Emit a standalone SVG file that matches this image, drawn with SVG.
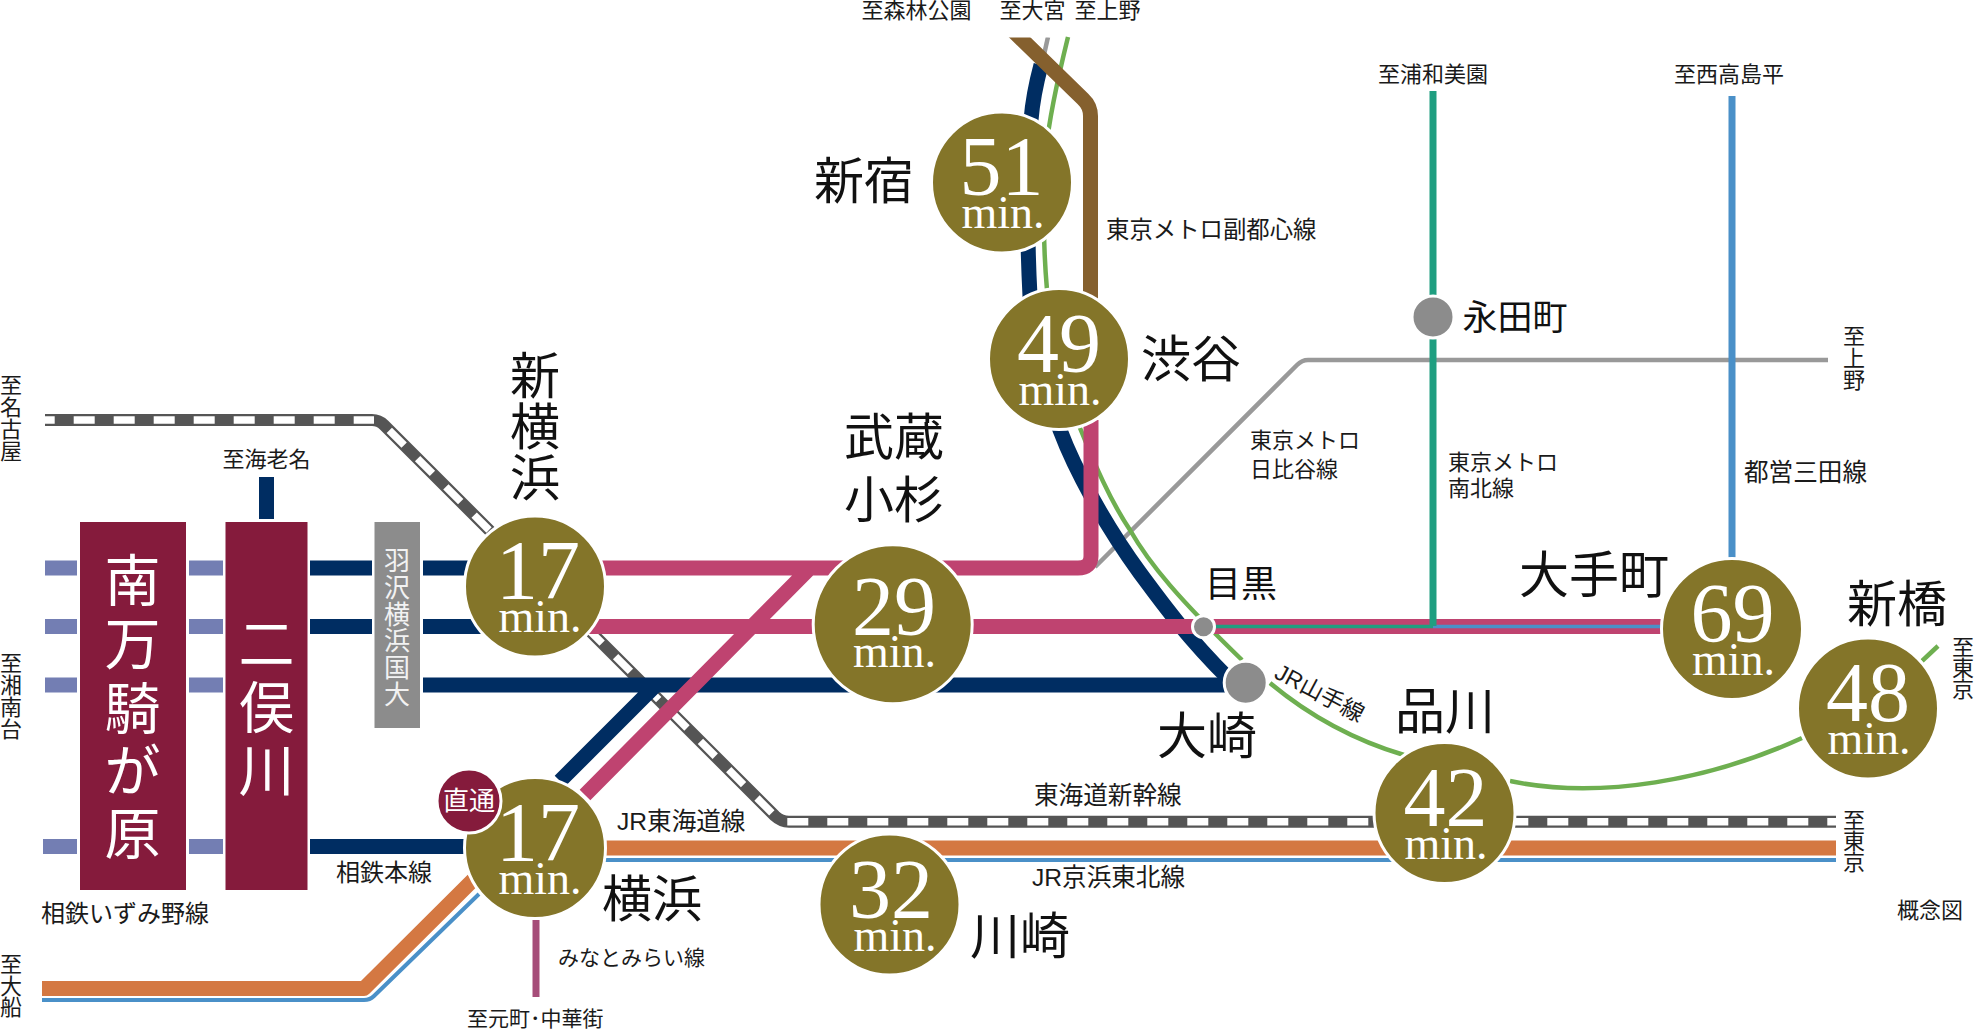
<svg xmlns="http://www.w3.org/2000/svg" width="1974" height="1029" viewBox="0 0 1974 1029">
<defs>
<style>
text{font-family:"Liberation Sans","Noto Sans CJK JP",sans-serif;fill:#1a1a1a}
.l{font-size:22px}
.m{font-size:24.600px}
.st{font-family:"Liberation Serif","Noto Sans CJK JP",serif;font-size:50px;fill:#111;text-anchor:middle}
.c{text-anchor:middle}
.cir{fill:#847529;stroke:#fff;stroke-width:3}
.num{font-family:"Liberation Serif",serif;font-size:84px;fill:#fff;text-anchor:middle}
.min{font-family:"Liberation Serif",serif;font-size:46px;fill:#fff;text-anchor:middle}
.box{fill:#851b3c}
.w{fill:#fff;font-family:"Liberation Serif","Noto Sans CJK JP",serif;font-size:56px;text-anchor:middle}
.hub{fill:#8c8c8c;stroke:#fff;stroke-width:3}
.n{fill:none}
.navy{stroke:#002d62;stroke-width:15}
.pink{stroke:#bf4370;stroke-width:15}
.lite{stroke:#737eb3;stroke-width:15}
.org{stroke:#d47842;stroke-width:15}
.blu{stroke:#4a90c8;stroke-width:4}
.grn{stroke:#6eaf50;stroke-width:4.500}
.skb{stroke:#555;stroke-width:12}
.skw{stroke:#fff;stroke-width:7.500;stroke-dasharray:21 19}
</style>
<clipPath id="top"><rect x="0" y="37.500" width="1974" height="992"/></clipPath>
</defs>

<g id="connectors" fill="none" stroke-linejoin="round">
<path class="n skb" d="M45 420H372Q379 420 384 425L775 816Q781 821.700 789 821.700H1836"/>
<path class="n skw" stroke-dashoffset="11.300" d="M45 420H374"/>
<path class="n skw" d="M389.300 430.300L772 813"/>
<path class="n skw" d="M787.300 821.700H1836"/>
<path class="n" stroke="#999" stroke-width="4.500" d="M1828 360H1308Q1302 360 1297 365L1095 567"/>
<path class="n" stroke="#999" stroke-width="4.500" d="M1041 68L1048 37" clip-path="url(#top)"/>
<path class="n lite" d="M45 568H77M189 568H223M45 626.500H77M189 626.500H223M45 685H77M189 685H223M43 846.500H77M189 846.500H223"/>
<path class="n navy" d="M266.500 477V519M310 568H372M423 568H480M310 626.500H372M423 626.500H490M310 846.500H480M423 685H1226M654 687L560 781"/>
<path class="n navy" d="M1041 65Q1033 95 1031 120Q1025 200 1030 296Q1040 375 1060 430C1075 470 1105 525 1140 573C1160 600 1185 635 1228 678"/>
<path class="n grn" d="M1068 37Q1050 110 1046 150Q1041 220 1047 290Q1060 370 1080 428C1095 465 1110 500 1130 530C1150 565 1180 600 1242 660"/>
<path class="n grn" d="M1270 683Q1330 733 1404 755M1510 781C1600 800 1710 780 1802 738" stroke-width="5.500"/>
<path class="n grn" d="M1922 661L1938 646"/>
<path class="n" stroke="#85602e" stroke-width="15" clip-path="url(#top)" d="M1007 25L1083 99Q1090.500 106 1090.500 116V300"/>
<path class="n pink" d="M600 568H1078Q1091 568 1091 556V420M585 626.500H1662M808 570L585 795"/>
<path class="n" stroke="#1f9e80" stroke-width="3.500" d="M1215 626.500H1433"/>
<path class="n" stroke="#4a90c8" stroke-width="3.500" d="M1433 626.500H1662"/>
<path class="n" stroke="#1f9e80" stroke-width="7" d="M1433 91V626"/>
<path class="n" stroke="#4a90c8" stroke-width="7" d="M1732 96V560"/>
<path class="n org" d="M600 848H1836"/>
<path class="n blu" d="M600 860H1836"/>
<path class="n org" d="M473 880L364 988.500H42"/>
<path class="n blu" d="M479 894L374 996Q370 1000 364 1000H42"/>
<path class="n" stroke="#a64d79" stroke-width="7" d="M536 920V997"/>
</g>

<g id="node-minamimakigahara"><rect class="box" x="80" y="522" width="106" height="368"/>
<text class="w"><tspan x="132.500" y="601">南</tspan><tspan x="132.500" y="664">万</tspan><tspan x="132.500" y="729">騎</tspan><tspan x="132.500" y="791">が</tspan><tspan x="132.500" y="854">原</tspan></text></g>
<g id="node-futamatagawa"><rect class="box" x="225.500" y="522" width="82" height="368"/>
<text class="w"><tspan x="266.500" y="664">二</tspan><tspan x="266.500" y="728">俣</tspan><tspan x="266.500" y="791">川</tspan></text></g>
<g id="node-hazawa"><rect x="374.500" y="522" width="45.500" height="206" fill="#8c8c8c"/>
<text class="c" font-size="26" style="fill:#f2f2f2"><tspan x="397" y="570">羽</tspan><tspan x="397" y="597">沢</tspan><tspan x="397" y="624">横</tspan><tspan x="397" y="650">浜</tspan><tspan x="397" y="677">国</tspan><tspan x="397" y="704">大</tspan></text></g>

<g id="node-shinyokohama"><circle class="cir" cx="535" cy="586.500" r="70.500"/><text class="num" x="538" y="599">17</text><text class="min" x="540" y="632">min.</text>
<text class="st"><tspan x="535" y="394">新</tspan><tspan x="535" y="445">横</tspan><tspan x="535" y="496">浜</tspan></text></g>
<g id="node-yokohama"><circle class="cir" cx="535" cy="848" r="70.500"/><text class="num" x="538" y="861">17</text><text class="min" x="540" y="894">min.</text>
<text class="st" x="652" y="917">横浜</text></g>
<g id="node-chokutsu"><circle cx="469" cy="801" r="32" fill="#851b3c" stroke="#fff" stroke-width="3"/><text class="c" x="469" y="810" font-size="26" style="fill:#fff">直通</text></g>
<g id="node-shinjuku"><circle class="cir" cx="1002" cy="182.500" r="70.500"/><text class="num" x="1001.500" y="195">51</text><text class="min" x="1003" y="228">min.</text>
<text class="st" x="864" y="199">新宿</text></g>
<g id="node-shibuya"><circle class="cir" cx="1059" cy="359" r="70.500"/><text class="num" x="1059" y="371.500">49</text><text class="min" x="1060" y="404.500">min.</text>
<text class="st" x="1191" y="377">渋谷</text></g>
<g id="node-musashikosugi"><circle class="cir" cx="892.700" cy="624.300" r="79.500"/><text class="num" x="894" y="635">29</text><text class="min" x="894.500" y="667">min.</text>
<text class="st" x="894" y="455">武蔵</text><text class="st" x="894" y="518">小杉</text></g>
<g id="node-kawasaki"><circle class="cir" cx="889.500" cy="904.500" r="70.500"/><text class="num" x="891" y="918">32</text><text class="min" x="895" y="950.500">min.</text>
<text class="st" x="1020" y="954">川崎</text></g>
<g id="node-shinagawa"><circle class="cir" cx="1444.500" cy="813" r="70.500"/><text class="num" x="1445.500" y="826">42</text><text class="min" x="1446" y="859">min.</text>
<text class="st" x="1445" y="729">品川</text></g>
<g id="node-otemachi"><circle class="cir" cx="1732" cy="629" r="70.500"/><text class="num" x="1732.500" y="642">69</text><text class="min" x="1733.500" y="675">min.</text>
<text class="st" x="1594" y="593">大手町</text></g>
<g id="node-shimbashi"><circle class="cir" cx="1868" cy="708.500" r="70.500"/><text class="num" x="1868" y="721">48</text><text class="min" x="1869" y="754">min.</text>
<text class="st" x="1897" y="622">新橋</text></g>
<g id="node-meguro"><circle class="hub" cx="1203.500" cy="626.700" r="11"/><text class="st" x="1241" y="597" style="font-size:36px">目黒</text></g>
<g id="node-osaki"><circle class="hub" cx="1245.700" cy="682.700" r="21.500"/><text class="st" x="1207" y="754">大崎</text></g>
<g id="node-nagatacho"><circle class="hub" cx="1433" cy="317" r="21"/><text class="st" x="1515" y="330" style="font-size:35px">永田町</text></g>

<g id="labels">
<text class="l c" x="916.500" y="18">至森林公園</text>
<text class="l c" x="1032.500" y="18">至大宮</text>
<text class="l c" x="1107.500" y="18">至上野</text>
<text class="l c" x="1433" y="82">至浦和美園</text>
<text class="l c" x="1729" y="82">至西高島平</text>
<text class="l" x="1106" y="238" style="font-size:23.400px">東京メトロ副都心線</text>
<text class="l" x="1250" y="448">東京メトロ</text><text class="l" x="1250" y="477">日比谷線</text>
<text class="l" x="1448" y="470">東京メトロ</text><text class="l" x="1448" y="496">南北線</text>
<text class="m" x="1744" y="481">都営三田線</text>
<text class="l c"><tspan x="1854" y="344">至</tspan><tspan x="1854" y="366">上</tspan><tspan x="1854" y="388">野</tspan></text>
<text class="l c"><tspan x="11" y="393">至</tspan><tspan x="11" y="415">名</tspan><tspan x="11" y="437">古</tspan><tspan x="11" y="459">屋</tspan></text>
<text class="l c"><tspan x="11" y="671">至</tspan><tspan x="11" y="693">湘</tspan><tspan x="11" y="715">南</tspan><tspan x="11" y="737">台</tspan></text>
<text class="l c"><tspan x="11" y="972">至</tspan><tspan x="11" y="994">大</tspan><tspan x="11" y="1015">船</tspan></text>
<text class="l c"><tspan x="1963" y="655">至</tspan><tspan x="1963" y="676">東</tspan><tspan x="1963" y="697">京</tspan></text>
<text class="l c"><tspan x="1854" y="828">至</tspan><tspan x="1854" y="849">東</tspan><tspan x="1854" y="870">京</tspan></text>
<text class="l" x="1897" y="918">概念図</text>
<text class="l c" x="266.500" y="467">至海老名</text>
<text class="m" x="336" y="881" style="font-size:24px">相鉄本線</text>
<text class="m" x="41" y="922" style="font-size:24px">相鉄いずみ野線</text>
<text class="m" x="617" y="830">JR東海道線</text>
<text class="m" x="1034" y="804">東海道新幹線</text>
<text class="m" x="1032" y="886">JR京浜東北線</text>
<text class="l" x="558" y="965" style="font-size:21px">みなとみらい線</text>
<text class="l" x="467" y="1026" style="font-size:21px">至元町･中華街</text>
<text class="l c" transform="translate(1316 700) rotate(28)" style="font-size:23px">JR山手線</text>
</g>
</svg>
